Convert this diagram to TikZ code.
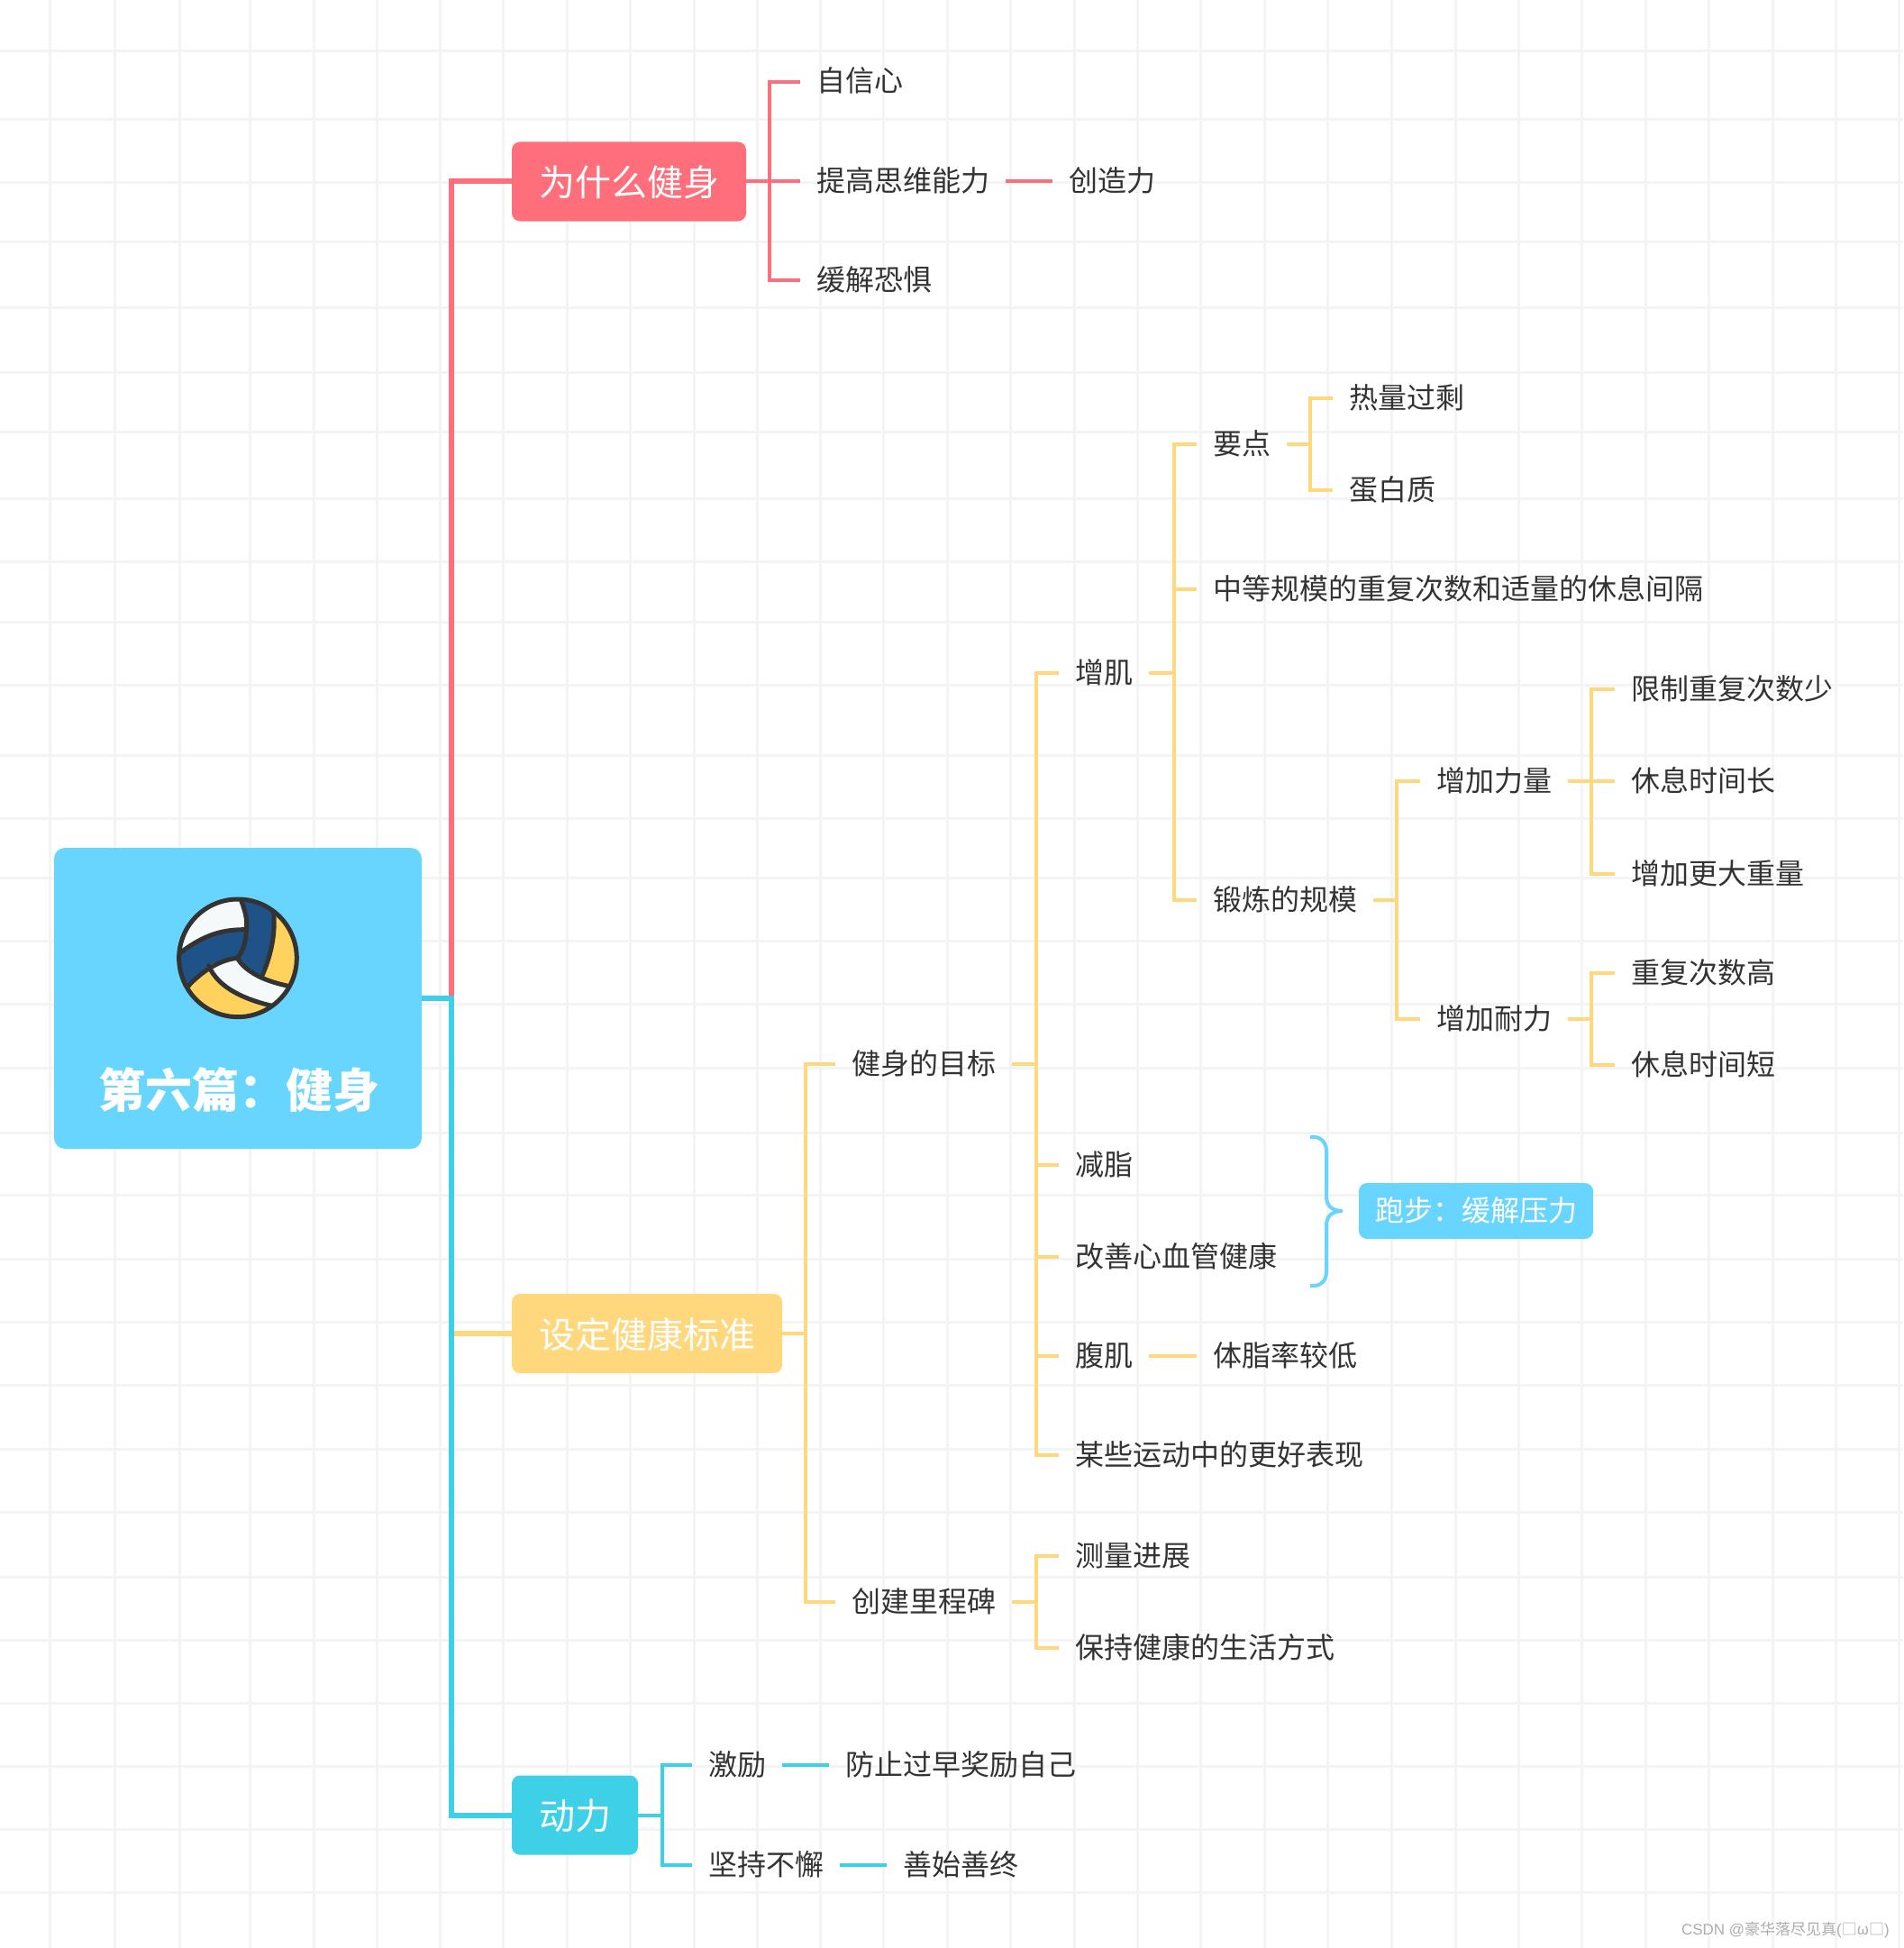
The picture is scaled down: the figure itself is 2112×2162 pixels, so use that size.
\documentclass[tikz,border=0pt]{standalone}
\usepackage{fontspec}
\setmainfont{Noto Sans CJK SC}
\newfontfamily\marksans{Liberation Sans}
\definecolor{gridgray}{HTML}{F3F4F5}
\definecolor{inkgray}{HTML}{333333}
\definecolor{rootblue}{HTML}{68D5FF}
\definecolor{whyred}{HTML}{FF6E7B}
\definecolor{setyellow}{HTML}{FFD77C}
\definecolor{powercyan}{HTML}{3DD0E6}
\definecolor{ballblue}{HTML}{1F5286}
\definecolor{ballyellow}{HTML}{FFD25E}
\definecolor{ballwhite}{HTML}{F5F9F9}
\tikzset{
	leaf/.style = {anchor=west, inner xsep=18pt, inner ysep=0pt, text=inkgray, font=\fontsize{32}{36}\selectfont, text height=27pt, text depth=5pt},
	topicbox/.style = {anchor=center, rounded corners=9pt, inner sep=0pt, text=white, font=\fontsize{40}{46}\selectfont, text height=36pt, text depth=4pt},
	redline/.style = {whyred, line width=4pt},
	yellowline/.style = {setyellow, line width=4pt},
	cyanline/.style = {powercyan, line width=4pt},
	seam/.style = {inkgray, line width=5pt, line cap=round}
}

\begin{document}
\begin{tikzpicture}[x=1pt, y=-1pt]
		\useasboundingbox (0,0) rectangle (2112,2162);
		\fill[white] (0,0) rectangle (2112,2162);
		\foreach \gx in {55,127,199,277,348,418,488,558,629,699,770,840,910,980,1051,1121,1192,1262,1332,1403,1473,1544,1615,1685,1755,1826,1896,1967,2037,2107}
			\draw[gridgray, line width=3pt] (\gx,0) -- (\gx,2162);
		\foreach \gy in {57,133,203,268,341,413,479,553,623,690,760,838,908,974,1044,1114,1185,1257,1326,1397,1467,1537,1608,1678,1750,1820,1890,1960,2030,2100}
			\draw[gridgray, line width=3pt] (0,\gy) -- (2112,\gy);

		\node[fill=rootblue, rounded corners=12pt, minimum width=408pt, minimum height=334pt] (root) at (264,1108) {};
		\node[text=white, font=\fontsize{52}{58}\selectfont\bfseries, inner sep=0pt] (title) at (265,1210) {第六篇：健身};

		\begin{scope}[shift={(40,920)}, x=0.3333pt, y=-0.3333pt]
			\begin{scope}
				\clip (672,430) circle (196pt*0.3333);
				\fill[ballyellow] (460,220) rectangle (880,640);
				\fill[ballwhite] (460,420) .. controls (560,350) and (620,335) .. (700,335) .. controls (705,300) and (695,270) .. (680,220) -- (460,220) -- cycle;
				\fill[ballblue] (470,420) .. controls (560,350) and (620,335) .. (700,335) .. controls (700,375) and (690,405) .. (670,430) .. controls (620,435) and (560,465) .. (505,525) -- (460,525) -- cycle;
				\fill[ballblue] (680,220) .. controls (695,270) and (705,300) .. (700,335) .. controls (700,375) and (690,405) .. (670,430) .. controls (690,460) and (720,480) .. (750,495) .. controls (780,430) and (800,350) .. (790,270) -- (790,220) -- cycle;
				\fill[ballwhite] (670,430) .. controls (700,480) and (770,510) .. (850,525) -- (790,600) .. controls (700,570) and (605,530) .. (575,455) .. controls (610,440) and (640,430) .. (670,430) -- cycle;
				\draw[seam] (470,420) .. controls (560,350) and (620,335) .. (700,335);
				\draw[seam] (680,230) .. controls (695,270) and (705,300) .. (700,335) .. controls (700,375) and (690,405) .. (670,430);
				\draw[seam] (505,525) .. controls (560,465) and (620,435) .. (670,430);
				\draw[seam] (790,270) .. controls (800,350) and (780,430) .. (750,495);
				\draw[seam] (670,430) .. controls (700,480) and (770,510) .. (850,525);
				\draw[seam] (575,455) .. controls (605,530) and (700,570) .. (790,590);
			\end{scope}
			\draw[inkgray, line width=5pt] (672,430) circle (196pt*0.3333);
		\end{scope}

		\node[topicbox, fill=whyred, minimum width=260pt, minimum height=88pt] (why) at (698,201.5) {为什么健身};
		\node[topicbox, fill=setyellow, minimum width=300pt, minimum height=88pt] (standard) at (718,1480) {设定健康标准};
		\node[topicbox, fill=powercyan, minimum width=140pt, minimum height=88pt] (power) at (638,2014.5) {动力};

		\node[leaf] (confidence) at (888,91) {自信心};
		\node[leaf] (thinking) at (888,201.5) {提高思维能力};
		\node[leaf] (creativity) at (1168,201.5) {创造力};
		\node[leaf] (fear) at (888,311) {缓解恐惧};

		\node[leaf] (goal) at (927,1181) {健身的目标};
		\node[leaf] (milestone) at (927,1778) {创建里程碑};
		\node[leaf] (muscle) at (1175,747) {增肌};
		\node[leaf] (fatloss) at (1175,1293) {减脂};
		\node[leaf] (heart) at (1175,1395) {改善心血管健康};
		\node[leaf] (abs) at (1175,1505) {腹肌};
		\node[leaf] (bodyfat) at (1328,1505) {体脂率较低};
		\node[leaf] (sports) at (1175,1615) {某些运动中的更好表现};
		\node[leaf] (keypoint) at (1328,493) {要点};
		\node[leaf] (medium) at (1328,654) {中等规模的重复次数和适量的休息间隔};
		\node[leaf] (scale) at (1328,999) {锻炼的规模};
		\node[leaf] (surplus) at (1479,442) {热量过剩};
		\node[leaf] (protein) at (1479,544) {蛋白质};
		\node[leaf] (strength) at (1576,867) {增加力量};
		\node[leaf] (endurance) at (1576,1131) {增加耐力};
		\node[leaf] (fewreps) at (1792,765) {限制重复次数少};
		\node[leaf] (longrest) at (1792,867) {休息时间长};
		\node[leaf] (moreweight) at (1792,970) {增加更大重量};
		\node[leaf] (highreps) at (1792,1080) {重复次数高};
		\node[leaf] (shortrest) at (1792,1182) {休息时间短};
		\node[leaf] (progress) at (1175,1727) {测量进展};
		\node[leaf] (lifestyle) at (1175,1829) {保持健康的生活方式};

		\node[leaf] (motivate) at (768,1959) {激励};
		\node[leaf] (reward) at (920,1959) {防止过早奖励自己};
		\node[leaf] (persist) at (768,2070) {坚持不懈};
		\node[leaf] (goodend) at (984,2070) {善始善终};

		\coordinate (rootbus) at (501,1108);
		\coordinate (whybus) at (853.5,201.5);
		\coordinate (standardbus) at (894,1480);
		\coordinate (goalbus) at (1150,1181);
		\coordinate (milestonebus) at (1150,1778);
		\coordinate (musclebus) at (1303,747);
		\coordinate (keybus) at (1454,493);
		\coordinate (scalebus) at (1550,999);
		\coordinate (strengthbus) at (1766,867);
		\coordinate (endurancebus) at (1766,1131);
		\coordinate (powerbus) at (735,2014.5);

		\draw[redline, line width=6pt] (rootbus) |- (why.west);
		\draw[yellowline, line width=6pt] (rootbus |- standard.west) -- (standard.west);
		\draw[cyanline, line width=6pt] (root.east) -- (rootbus) |- (power.west);

		\draw[redline] (why.east) -- (whybus);
		\draw[redline] (whybus) |- (confidence.west);
		\draw[redline] (whybus) -- (thinking.west);
		\draw[redline] (whybus) |- (fear.west);
		\draw[redline] (thinking.east) -- (creativity.west);

		\draw[yellowline] (standard.east) -- (standardbus);
		\draw[yellowline] (standardbus) |- (goal.west);
		\draw[yellowline] (standardbus) |- (milestone.west);
		\draw[yellowline] (goal.east) -- (goalbus);
		\draw[yellowline] (goalbus) |- (muscle.west);
		\draw[yellowline] (goalbus) |- (fatloss.west);
		\draw[yellowline] (goalbus) |- (heart.west);
		\draw[yellowline] (goalbus) |- (abs.west);
		\draw[yellowline] (goalbus) |- (sports.west);
		\draw[yellowline] (abs.east) -- (bodyfat.west);
		\draw[yellowline] (muscle.east) -- (musclebus);
		\draw[yellowline] (musclebus) |- (keypoint.west);
		\draw[yellowline] (musclebus) |- (medium.west);
		\draw[yellowline] (musclebus) |- (scale.west);
		\draw[yellowline] (keypoint.east) -- (keybus);
		\draw[yellowline] (keybus) |- (surplus.west);
		\draw[yellowline] (keybus) |- (protein.west);
		\draw[yellowline] (scale.east) -- (scalebus);
		\draw[yellowline] (scalebus) |- (strength.west);
		\draw[yellowline] (scalebus) |- (endurance.west);
		\draw[yellowline] (strength.east) -- (strengthbus);
		\draw[yellowline] (strengthbus) |- (fewreps.west);
		\draw[yellowline] (strengthbus) -- (longrest.west);
		\draw[yellowline] (strengthbus) |- (moreweight.west);
		\draw[yellowline] (endurance.east) -- (endurancebus);
		\draw[yellowline] (endurancebus) |- (highreps.west);
		\draw[yellowline] (endurancebus) |- (shortrest.west);
		\draw[yellowline] (milestone.east) -- (milestonebus);
		\draw[yellowline] (milestonebus) |- (progress.west);
		\draw[yellowline] (milestonebus) |- (lifestyle.west);

		\draw[cyanline] (power.east) -- (powerbus);
		\draw[cyanline] (powerbus) |- (motivate.west);
		\draw[cyanline] (powerbus) |- (persist.west);
		\draw[cyanline] (motivate.east) -- (reward.west);
		\draw[cyanline] (persist.east) -- (goodend.west);

		\node[topicbox, fill=rootblue, font=\fontsize{32}{36}\selectfont, text height=27pt, text depth=5pt, minimum width=260pt, minimum height=62pt] (running) at (1638,1344) {跑步：缓解压力};
		\coordinate (bracetop) at (1454,1262);
		\coordinate (bracetip) at (1490,1344);
		\coordinate (bracelow) at (1454,1427);
		\draw[rootblue, line width=4pt] (bracetop) -- ++(4,0) .. controls (1466,1262) and (1472,1268) .. (1472,1278) -- (1472,1328) .. controls (1472,1338) and (1478,1344) .. (bracetip);
		\draw[rootblue, line width=4pt] (bracelow) -- ++(4,0) .. controls (1466,1427) and (1472,1421) .. (1472,1411) -- (1472,1360) .. controls (1472,1350) and (1478,1344) .. (bracetip);

		\node[anchor=east, inner sep=0pt, text=black!32, font=\fontsize{17}{20}\selectfont] (credit) at (2097,2142) {{\marksans CSDN @}豪华落尽见真{\marksans (}□ω□{\marksans )}};
	\end{tikzpicture}
\end{document}
